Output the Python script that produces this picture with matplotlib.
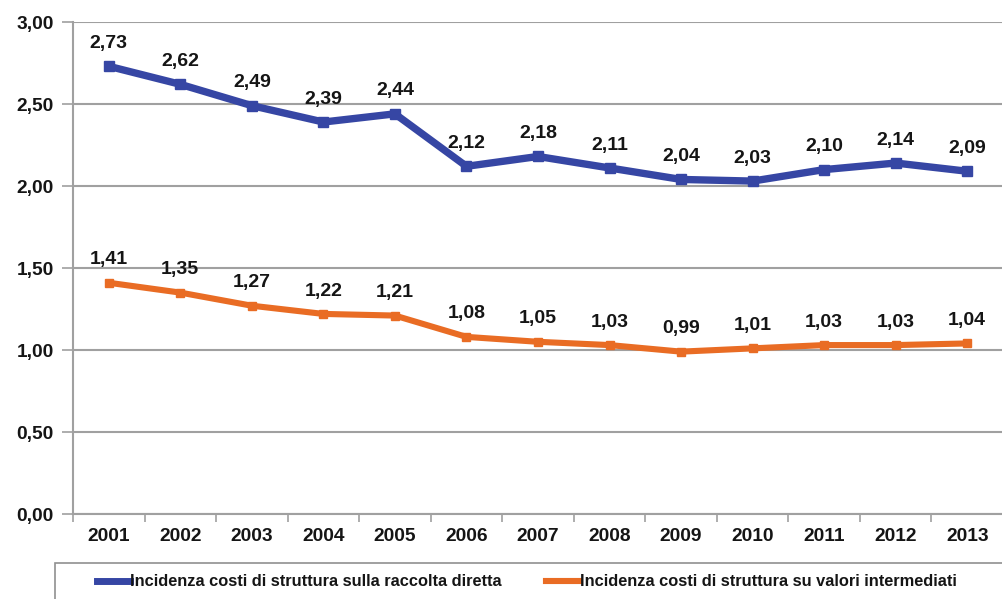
import matplotlib
matplotlib.use("Agg")
import matplotlib.pyplot as plt
from matplotlib.patches import Rectangle
from matplotlib.lines import Line2D
import numpy as np

plt.rcParams['font.family'] = ['Liberation Sans', 'DejaVu Sans']

years = ["2001", "2002", "2003", "2004", "2005", "2006", "2007",
         "2008", "2009", "2010", "2011", "2012", "2013"]
raccolta_diretta = [2.73, 2.62, 2.49, 2.39, 2.44, 2.12, 2.18,
                    2.11, 2.04, 2.03, 2.10, 2.14, 2.09]
valori_intermedi = [1.41, 1.35, 1.27, 1.22, 1.21, 1.08, 1.05,
                    1.03, 0.99, 1.01, 1.03, 1.03, 1.04]
series_names = ["Incidenza costi di struttura sulla raccolta diretta",
                "Incidenza costi di struttura su valori intermediati"]
y_ticks = [0.0, 0.5, 1.0, 1.5, 2.0, 2.5, 3.0]

blue = "#3646A4"
orange = "#E96C24"
grid_c = "#A0A0A0"
text_c = "#151515"

W, H = 1003, 599
fig = plt.figure(figsize=(W / 100, H / 100), dpi=100)
ax = fig.add_axes([73 / W, (H - 514) / H, 930 / W, 492 / H])

x = np.arange(len(years))
ax.plot(x, raccolta_diretta, color=blue, lw=5.3, marker='s', ms=6.5,
        solid_joinstyle='round', zorder=3)
ax.plot(x, valori_intermedi, color=orange, lw=4.4, marker='s', ms=5.5,
        solid_joinstyle='round', zorder=3)

def fmt(v):
    return f"{v:.2f}".replace(".", ",")

for series in (raccolta_diretta, valori_intermedi):
    for xi, v in zip(x, series):
        ax.annotate(fmt(v), (xi, v), xytext=(0, 16.5), textcoords='offset points',
                    ha='center', va='center', fontsize=14, fontweight='bold',
                    color=text_c, zorder=4)

ax.set_xlim(-0.5, len(years) - 0.5)
ax.set_ylim(0, 3.0)
ax.set_yticks(y_ticks)
ax.set_yticklabels([fmt(v) for v in y_ticks], fontsize=13.8, fontweight='bold',
                   color=text_c)
ax.set_xticks(x)
ax.set_xticklabels(years, fontsize=13.8, fontweight='bold', color=text_c)
ax.tick_params(axis='x', length=0, pad=10)
ax.set_xticks(np.arange(-0.5, len(years)), minor=True)
ax.tick_params(axis='x', which='minor', length=6, width=1.2, color=grid_c, direction='out')
ax.tick_params(axis='y', length=8, width=1.2, color=grid_c, pad=6)

ax.yaxis.grid(True, color=grid_c, lw=1.5)
ax.set_axisbelow(True)
for s in ('top', 'right'):
    ax.spines[s].set_visible(False)
ax.spines['left'].set_color(grid_c)
ax.spines['left'].set_linewidth(1.5)
ax.spines['bottom'].set_color(grid_c)
ax.spines['bottom'].set_linewidth(1.5)

# legend box running off the lower edge
fig.patches.append(Rectangle((55 / W, -0.05), 1.0, (H - 563) / H + 0.05,
                             transform=fig.transFigure, fill=False,
                             edgecolor='#909090', lw=1.2))
handles = [Line2D([], [], color=blue, lw=5),
           Line2D([], [], color=orange, lw=4.4)]
fig.legend(handles, series_names, loc='center left',
           bbox_to_anchor=(82 / W, (H - 582) / H), ncol=2, frameon=False,
           handlelength=2.0, handletextpad=0.05, columnspacing=2.7,
           prop={'size': 11.8, 'weight': 'bold'}, labelcolor=text_c)

fig.savefig("out.png", dpi=100, facecolor='white')
